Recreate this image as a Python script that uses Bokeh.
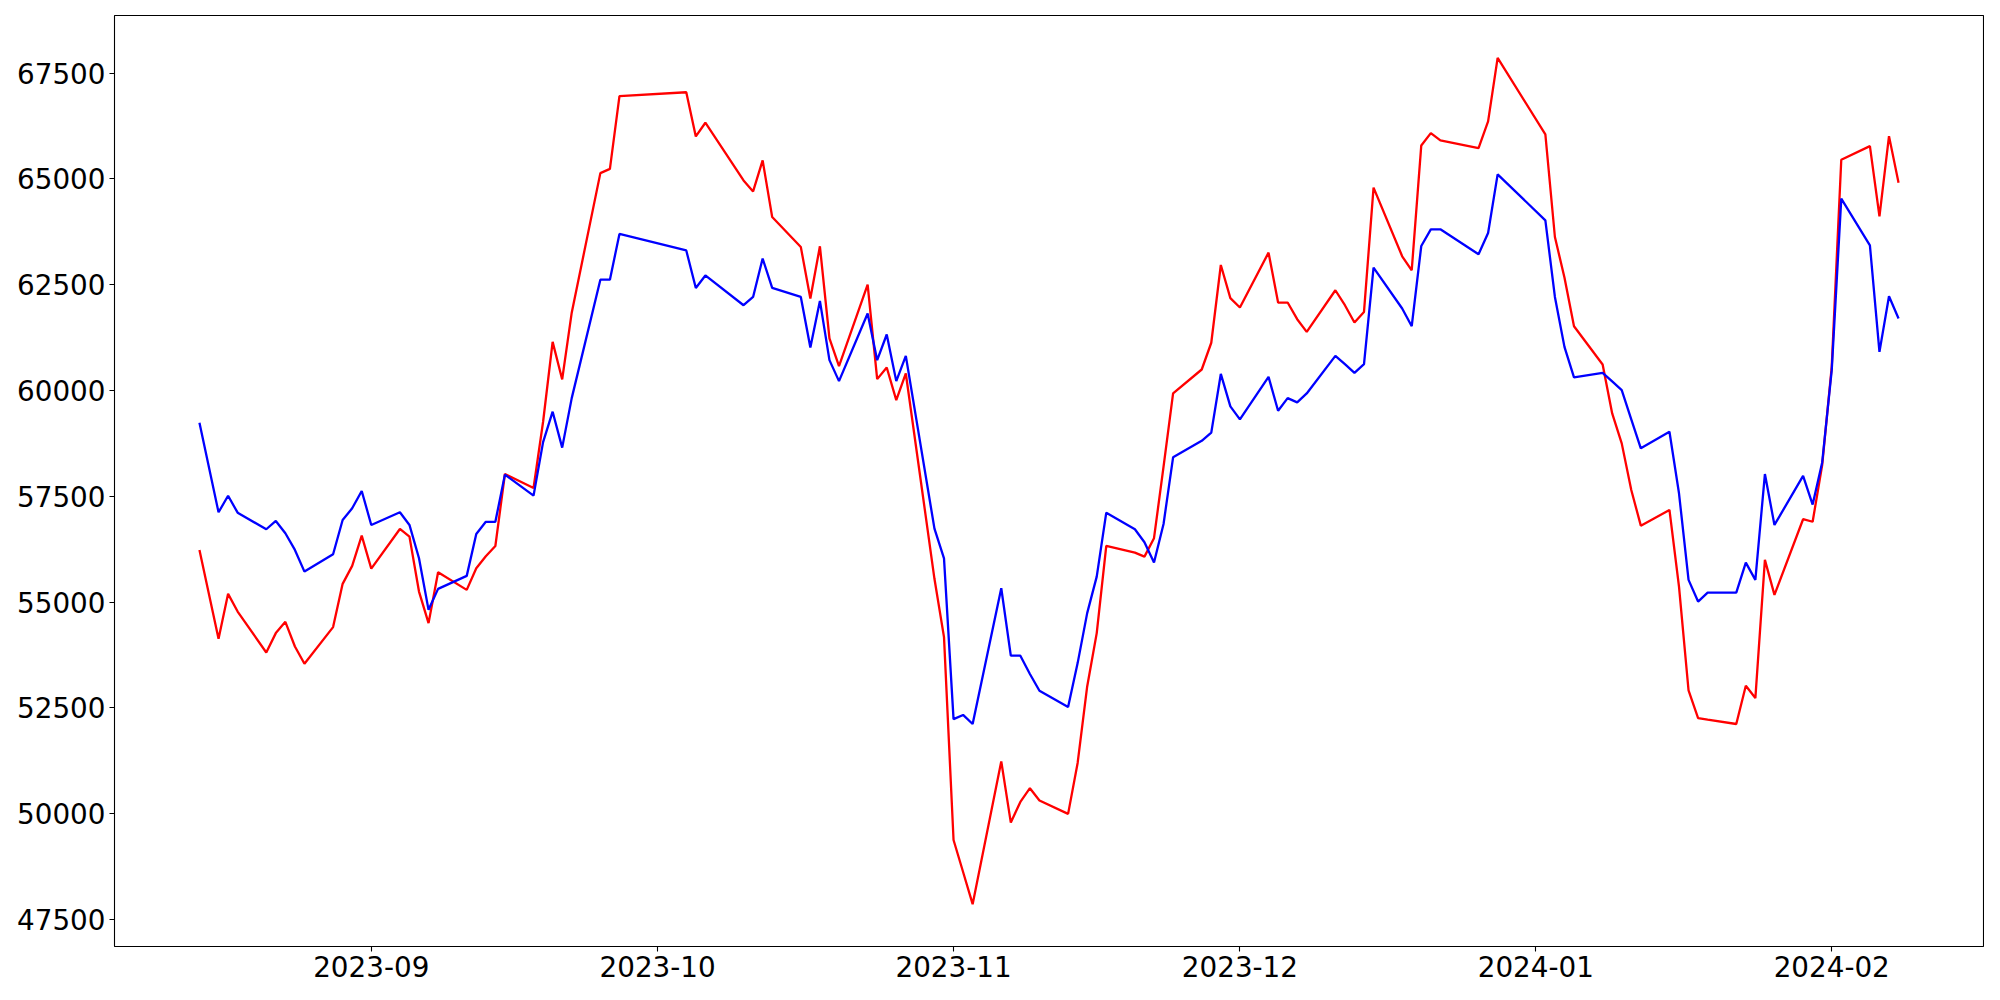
import pandas as pd
from bokeh.plotting import figure
from bokeh.models import ColumnDataSource, Range1d, MonthsTicker, DatetimeTickFormatter, SingleIntervalTicker, BasicTickFormatter
from bokeh.embed import file_html
from bokeh.resources import INLINE

dates = [
    "2023-08-14", "2023-08-16", "2023-08-17", "2023-08-18", "2023-08-21", "2023-08-22", "2023-08-23",
    "2023-08-24", "2023-08-25", "2023-08-28", "2023-08-29", "2023-08-30", "2023-08-31", "2023-09-01",
    "2023-09-04", "2023-09-05", "2023-09-06", "2023-09-07", "2023-09-08", "2023-09-11", "2023-09-12",
    "2023-09-13", "2023-09-14", "2023-09-15", "2023-09-18", "2023-09-19", "2023-09-20", "2023-09-21",
    "2023-09-22", "2023-09-25", "2023-09-26", "2023-09-27", "2023-10-04", "2023-10-05", "2023-10-06",
    "2023-10-10", "2023-10-11", "2023-10-12", "2023-10-13", "2023-10-16", "2023-10-17", "2023-10-18",
    "2023-10-19", "2023-10-20", "2023-10-23", "2023-10-24", "2023-10-25", "2023-10-26", "2023-10-27",
    "2023-10-30", "2023-10-31", "2023-11-01", "2023-11-02", "2023-11-03", "2023-11-06", "2023-11-07",
    "2023-11-08", "2023-11-09", "2023-11-10", "2023-11-13", "2023-11-14", "2023-11-15", "2023-11-16",
    "2023-11-17", "2023-11-20", "2023-11-21", "2023-11-22", "2023-11-23", "2023-11-24", "2023-11-27",
    "2023-11-28", "2023-11-29", "2023-11-30", "2023-12-01", "2023-12-04", "2023-12-05", "2023-12-06",
    "2023-12-07", "2023-12-08", "2023-12-11", "2023-12-12", "2023-12-13", "2023-12-14", "2023-12-15",
    "2023-12-18", "2023-12-19", "2023-12-20", "2023-12-21", "2023-12-22", "2023-12-26", "2023-12-27",
    "2023-12-28", "2024-01-02", "2024-01-03", "2024-01-04", "2024-01-05", "2024-01-08", "2024-01-09",
    "2024-01-10", "2024-01-11", "2024-01-12", "2024-01-15", "2024-01-16", "2024-01-17", "2024-01-18",
    "2024-01-19", "2024-01-22", "2024-01-23", "2024-01-24", "2024-01-25", "2024-01-26", "2024-01-29",
    "2024-01-30", "2024-01-31", "2024-02-01", "2024-02-02", "2024-02-05", "2024-02-06", "2024-02-07",
    "2024-02-08",
]

blue_values = [
    59238, 57122, 57514, 57113, 56721, 56917, 56627,
    56232, 55720, 56131, 56941, 57217, 57625, 56823,
    57122, 56823, 56036, 54816, 55312, 55619, 56610,
    56897, 56897, 58012, 57515, 58780, 59500, 58650,
    59820, 62620, 62620, 63700, 63310, 62425, 62720,
    62016, 62212, 63119, 62425, 62212, 61017, 62118,
    60718, 60222, 61820, 60718, 61324, 60222, 60819,
    56735, 56032, 52233, 52332, 52118, 55326, 53732,
    53732, 53300, 52905, 52519, 53557, 54738, 55602,
    57113, 56721, 56414, 55933, 56846, 58421, 58810,
    59006, 60392, 59624, 59318, 60323, 59521, 59821,
    59719, 59931, 60819, 60623, 60418, 60623, 62906,
    61938, 61520, 63416, 63810, 63810, 63220, 63723,
    65109, 64023, 62212, 61032, 60309, 60418, 60215,
    60010, 59318, 58633, 59025, 57571, 55524, 55012,
    55224, 55224, 55933, 55524, 58026, 56823, 57982,
    57304, 58300, 60482, 64535, 63433, 60914, 62229,
    61702,
]

red_values = [
    56232, 54131, 55194, 54776, 53808, 54266, 54533,
    53950, 53541, 54408, 55430, 55855, 56570, 55791,
    56728, 56547, 55248, 54502, 55706, 55288, 55800,
    56084, 56325, 58027, 57696, 59262, 61150, 60262,
    61840, 65139, 65240, 66960, 67050, 66006, 66330,
    64967, 64707, 65439, 64101, 63392, 62174, 63409,
    61230, 60576, 62505, 60269, 60545, 59773, 60403,
    55550, 54171, 49377, 48620, 47859, 51235, 49788,
    50276, 50600, 50310, 49993, 51197, 53005, 54266,
    56327, 56169, 56074, 56509, 58200, 59931, 60497,
    61129, 62967, 62184, 61962, 63260, 62080, 62080,
    61686, 61386, 62370, 62016, 61608, 61858, 64795,
    63173, 62842, 65793, 66084, 65911, 65729, 66360,
    67864, 66053, 63629, 62670, 61520, 60616, 59459,
    58751, 57649, 56806, 57177, 55366, 52911, 52259,
    52219, 52118, 53022, 52731, 55996, 55170, 56958,
    56898, 58238, 60560, 65456, 65777, 64117, 66013,
    64913,
]

y_ticks_interval = 2500

x = pd.to_datetime(dates)
src = ColumnDataSource(dict(date=x, red=red_values, blue=blue_values))

# matplotlib-like 5% margins
x0, x1 = x.min(), x.max()
xpad = (x1 - x0) * 0.05
all_y = red_values + blue_values
y0, y1 = min(all_y), max(all_y)
ypad = (y1 - y0) * 0.05

p = figure(
    width=1984, height=984,
    x_axis_type="datetime",
    x_range=Range1d(x0 - xpad, x1 + xpad),
    y_range=Range1d(y0 - ypad, y1 + ypad),
    output_backend="svg", toolbar_location=None,
    min_border_left=114, min_border_right=1, min_border_top=15, min_border_bottom=38,
)
p.background_fill_color = "white"
p.border_fill_color = "white"
p.outline_line_color = "black"
p.outline_line_width = 1.1
p.outline_line_alpha = 1.0
p.grid.visible = False

p.line(x="date", y="red", source=src, color="red", line_width=2.3)
p.line(x="date", y="blue", source=src, color="blue", line_width=2.3)

p.xaxis.ticker = MonthsTicker(months=list(range(1, 13)))
p.xaxis.formatter = DatetimeTickFormatter(days="%Y-%m", months="%Y-%m", years="%Y-%m")
p.yaxis.ticker = SingleIntervalTicker(interval=y_ticks_interval)
p.yaxis.formatter = BasicTickFormatter(use_scientific=False)

for ax in (p.xaxis[0], p.yaxis[0]):
    ax.axis_line_color = None
    ax.major_tick_line_color = "black"
    ax.major_tick_line_width = 1.1
    ax.major_tick_out = 5
    ax.major_tick_in = 0
    ax.minor_tick_line_color = None
    ax.major_label_text_font = "DejaVu Sans"
    ax.major_label_text_font_size = "27.8px"
    ax.major_label_text_color = "black"
    ax.major_label_standoff = 4

open("out.html", "w").write(file_html(p, INLINE))
